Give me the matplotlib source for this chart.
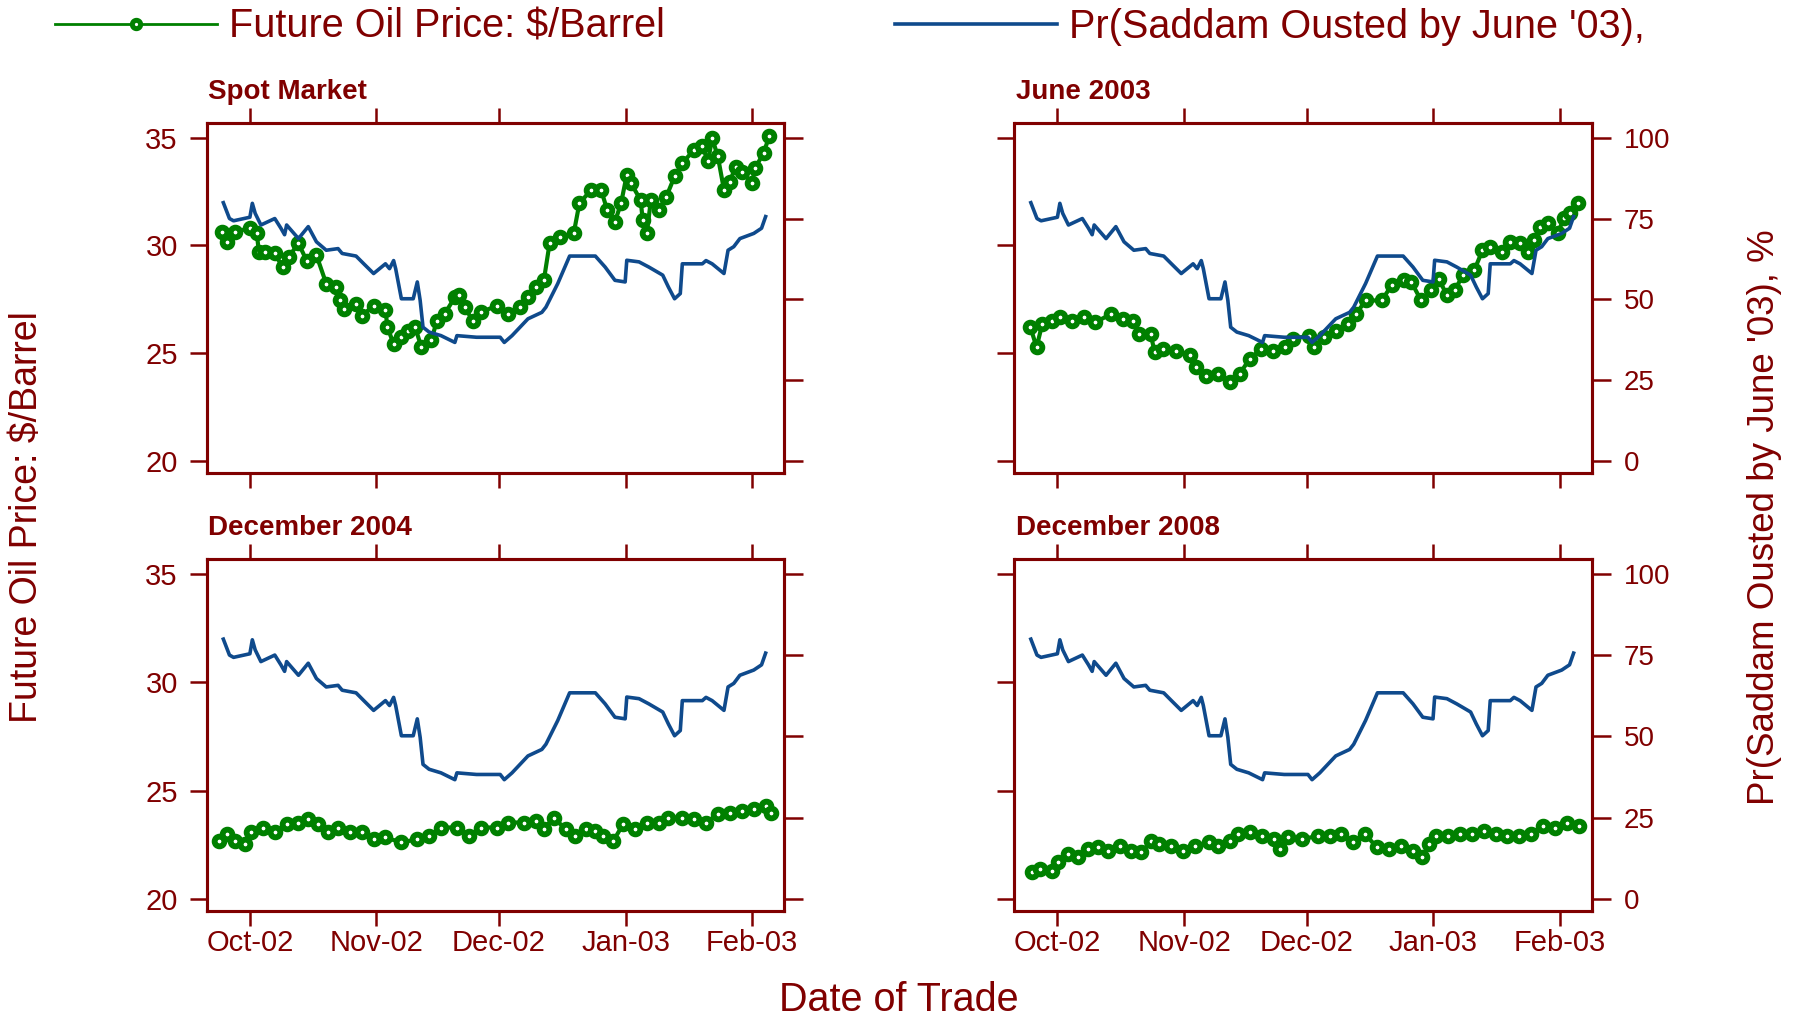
import matplotlib
matplotlib.use('Agg')
import matplotlib.pyplot as plt
import matplotlib.dates as mdates
import numpy as np
import datetime as dt

plt.rcParams['font.family'] = ['Liberation Sans', 'DejaVu Sans']

RED = '#800000'
GREEN = '#008000'
BLUE = '#0f4a8c'

# ---- data (x = days since 1 Oct 2002) ----
prob_days = [-6.5, -5.0, -4.0, 0.0, 0.6, 1.3, 2.7, 6.1, 7.6, 8.5,
             9.0, 11.9, 14.3, 16.3, 18.7, 21.6, 22.6, 26.0, 27.9, 30.3,
             33.2, 34.2, 35.2, 35.7, 37.1, 40.0, 41.0, 41.7, 42.4, 43.9,
             46.8, 50.2, 50.7, 55.5, 61.3, 62.3, 64.2, 68.1, 71.5, 72.5,
             75.4, 78.3, 84.6, 87.0, 89.4, 91.9, 92.3, 95.3, 97.7, 101.1,
             102.5, 104.0, 105.4, 105.9, 110.8, 111.7, 113.2, 116.1, 117.1, 118.5,
             120.0, 123.4, 125.3, 126.3]
prob_vals = [79.9, 75.0, 74.3, 75.4, 79.7, 76.6, 73.0, 75.0, 72.0, 70.0,
             73.0, 68.8, 72.5, 67.8, 65.2, 65.7, 64.2, 63.4, 61.0, 58.0,
             61.0, 59.5, 62.0, 59.5, 50.2, 50.2, 55.4, 49.7, 41.4, 39.9,
             38.8, 36.7, 38.8, 38.3, 38.3, 36.7, 38.8, 44.0, 46.0, 47.6,
             54.9, 63.4, 63.4, 60.0, 55.9, 55.4, 62.1, 61.6, 60.0, 57.5,
             53.8, 50.2, 51.8, 61.0, 61.0, 62.0, 61.0, 58.0, 65.2, 66.3,
             68.8, 70.4, 72.0, 75.6]

spot_days = [-6.9, -5.5, -3.6, 0.0, 1.7, 2.2, 3.7, 6.1, 8.0, 9.5,
             11.9, 13.9, 16.3, 18.7, 21.0, 22.1, 23.0, 26.0, 27.4, 30.3,
             33.2, 33.7, 35.2, 37.1, 38.6, 40.5, 42.0, 44.4, 45.8, 47.7,
             50.2, 51.2, 52.6, 54.6, 56.5, 60.4, 63.3, 66.2, 68.1, 70.1,
             72.0, 73.4, 75.9, 79.3, 80.7, 83.6, 86.0, 87.5, 89.4, 90.9,
             92.3, 93.3, 95.7, 96.2, 97.2, 98.2, 100.1, 102.0, 104.0, 105.9,
             108.8, 110.8, 112.2, 113.2, 114.6, 116.1, 117.5, 119.0, 120.4, 122.9,
             123.8, 125.8, 127.2]
spot_vals = [30.64, 30.17, 30.64, 30.8, 30.56, 29.7, 29.7, 29.63, 29.0, 29.47,
             30.1, 29.3, 29.55, 28.23, 28.07, 27.45, 27.07, 27.3, 26.75, 27.2,
             27.0, 26.2, 25.43, 25.75, 26.05, 26.2, 25.28, 25.6, 26.5, 26.83,
             27.6, 27.7, 27.15, 26.5, 26.9, 27.2, 26.83, 27.15, 27.6, 28.07,
             28.4, 30.1, 30.4, 30.56, 31.96, 32.58, 32.58, 31.65, 31.1, 31.96,
             33.28, 32.9, 32.1, 31.18, 30.56, 32.1, 31.65, 32.27, 33.2, 33.82,
             34.44, 34.6, 33.9, 34.98, 34.13, 32.58, 32.96, 33.66, 33.43, 32.9,
             33.6, 34.3, 35.06]

jun03_days = [-6.6, -5.1, -3.7, -1.3, 0.7, 3.6, 6.5, 9.3, 13.2, 16.1,
              18.5, 19.9, 22.8, 23.8, 25.8, 29.1, 32.5, 34.0, 36.4, 39.3,
              42.2, 44.6, 47.0, 49.9, 52.8, 55.7, 57.6, 61.5, 62.9, 65.3,
              68.2, 71.1, 73.0, 75.5, 79.3, 81.8, 84.7, 86.6, 89.0, 91.4,
              93.3, 95.3, 97.2, 99.2, 102.0, 104.0, 105.9, 108.8, 110.7, 113.2,
              115.1, 116.6, 118.0, 120.0, 122.4, 123.9, 125.4, 127.3]
jun03_vals = [26.21, 25.28, 26.37, 26.52, 26.68, 26.52, 26.68, 26.44, 26.83, 26.6,
              26.52, 25.9, 25.9, 25.05, 25.2, 25.12, 24.9, 24.35, 23.96, 24.04,
              23.65, 24.04, 24.74, 25.2, 25.12, 25.28, 25.67, 25.82, 25.28, 25.75,
              26.05, 26.37, 26.83, 27.45, 27.45, 28.15, 28.38, 28.3, 27.45, 27.92,
              28.46, 27.69, 27.92, 28.62, 28.85, 29.78, 29.94, 29.7, 30.17, 30.1,
              29.7, 30.25, 30.87, 31.02, 30.56, 31.26, 31.49, 31.96]

dec04_days = [-7.5, -5.5, -3.6, -1.2, 0.3, 3.2, 6.1, 9.0, 11.9, 14.3,
              16.8, 19.2, 21.6, 24.5, 27.4, 30.3, 33.2, 37.1, 41.0, 43.9,
              46.8, 50.7, 53.6, 56.5, 60.4, 63.3, 67.2, 70.1, 72.0, 74.4,
              77.3, 79.7, 82.2, 84.6, 86.5, 89.0, 91.4, 94.3, 97.2, 100.1,
              102.5, 105.9, 108.8, 111.7, 114.6, 117.5, 120.4, 123.4, 126.3, 127.7]
dec04_vals = [22.68, 22.99, 22.68, 22.53, 23.07, 23.3, 23.07, 23.45, 23.53, 23.68,
              23.45, 23.07, 23.3, 23.07, 23.07, 22.76, 22.84, 22.61, 22.76, 22.91,
              23.3, 23.3, 22.91, 23.3, 23.3, 23.53, 23.53, 23.6, 23.22, 23.76,
              23.22, 22.91, 23.22, 23.14, 22.91, 22.68, 23.45, 23.22, 23.53, 23.53,
              23.76, 23.76, 23.68, 23.53, 23.91, 23.99, 24.06, 24.14, 24.29, 23.99]

dec08_days = [-6.1, -4.2, -1.3, 0.2, 2.6, 5.0, 7.5, 9.9, 12.3, 15.2,
              18.1, 20.5, 23.0, 24.9, 27.8, 30.7, 33.6, 37.0, 39.4, 42.3,
              44.3, 47.2, 50.1, 53.0, 54.5, 56.4, 59.8, 63.7, 66.6, 69.5,
              72.4, 75.3, 78.2, 81.1, 84.0, 86.9, 89.3, 90.8, 92.7, 95.6,
              98.5, 101.4, 104.3, 107.2, 110.1, 113.0, 115.9, 118.8, 121.7, 124.6,
              127.5]
dec08_vals = [21.23, 21.38, 21.3, 21.69, 22.07, 21.92, 22.3, 22.38, 22.22, 22.45,
              22.22, 22.15, 22.68, 22.53, 22.45, 22.22, 22.45, 22.61, 22.45, 22.68,
              22.99, 23.07, 22.91, 22.76, 22.3, 22.84, 22.76, 22.91, 22.91, 22.99,
              22.61, 22.99, 22.38, 22.3, 22.45, 22.22, 21.92, 22.53, 22.91, 22.91,
              22.99, 22.99, 23.15, 22.99, 22.91, 22.91, 22.99, 23.38, 23.3, 23.53,
              23.38]

panel_titles = ['Spot Market', 'June 2003', 'December 2004', 'December 2008']
month_ticks = ['2002-10-01', '2002-11-01', '2002-12-01', '2003-01-01', '2003-02-01']
month_labels = ['Oct-02', 'Nov-02', 'Dec-02', 'Jan-03', 'Feb-03']
price_ticks = [20, 25, 30, 35]
prob_ticks = [0, 25, 50, 75, 100]

legend_labels = ['Future Oil Price: $/Barrel', "Pr(Saddam Ousted by June '03),"]
ylabel_left = 'Future Oil Price: $/Barrel'
ylabel_right = "Pr(Saddam Ousted by June '03), %"
xlabel = 'Date of Trade'

# ---- figure ----
W, H = 1802, 1016
fig = plt.figure(figsize=(W / 100, H / 100), dpi=100)

base = mdates.date2num(dt.datetime(2002, 10, 1))
xt = [mdates.date2num(dt.datetime.strptime(s, '%Y-%m-%d')) for s in month_ticks]
PMIN, PMAX = 19.45, 35.68

rects = [(207, 123, 784, 473), (1014.5, 123, 1592, 473),
         (207, 559, 784, 911), (1014.5, 559, 1592, 911)]
series = [(spot_days, spot_vals), (jun03_days, jun03_vals),
          (dec04_days, dec04_vals), (dec08_days, dec08_vals)]

handles = None
for i, (l, t, r, b) in enumerate(rects):
    row, col = divmod(i, 2)
    ax = fig.add_axes([l / W, 1 - b / H, (r - l) / W, (b - t) / H])
    ax2 = ax.twinx()
    d, v = series[i]
    g, = ax.plot(base + np.array(d), v, color=GREEN, lw=3.0, marker='o', ms=7,
                 mew=4.2, mfc='white', mec=GREEN)
    bl, = ax2.plot(base + np.array(prob_days), prob_vals, color=BLUE, lw=2.6)
    if handles is None:
        handles = [g, bl]
    ax.set_xlim(base - 10.5, base + 123 + 7.8)
    ax.set_ylim(PMIN, PMAX)
    ax2.set_ylim((PMIN - 20) / 15 * 100, (PMAX - 20) / 15 * 100)
    ax.set_xticks(xt)
    ax.set_xticklabels(month_labels)
    ax.set_yticks(price_ticks)
    ax2.set_yticks(prob_ticks)
    ax.tick_params(axis='x', direction='out', top=True, bottom=True,
                   labeltop=False, labelbottom=(row == 1), length=11, width=1.8,
                   color=RED, labelcolor=RED, labelsize=21, pad=2)
    ax.tick_params(axis='y', direction='out', left=True, right=False,
                   labelleft=(col == 0), labelright=False, length=12, width=1.8,
                   color=RED, labelcolor=RED, labelsize=21, pad=9)
    ax2.tick_params(axis='y', direction='out', right=True, left=False,
                    labelright=(col == 1), labelleft=False, length=14, width=1.8,
                    color=RED, labelcolor=RED, labelsize=20, pad=9)
    for a in (ax, ax2):
        for s in a.spines.values():
            s.set_color(RED)
            s.set_linewidth(2.2)
    ax.text(0.002, 1.069, panel_titles[i], transform=ax.transAxes,
            fontsize=20, fontweight='bold', color=RED, ha='left', va='baseline')

leg = fig.legend(handles, legend_labels, loc='center left',
                 bbox_to_anchor=(55 / W, 1 - 27 / H), ncol=2, frameon=False,
                 fontsize=28.5, handlelength=4.1, handletextpad=0.3, columnspacing=5.8,
                 borderpad=0, borderaxespad=0, numpoints=1, labelcolor=RED)
leg.legend_handles[0].set_linewidth(2.0)
leg.legend_handles[0].set_markersize(6)
leg.legend_handles[0].set_markeredgewidth(3.6)

fig.text(27 / W, 1 - 517 / H, ylabel_left, rotation=90, ha='center', va='center',
         fontsize=27, color=RED)
fig.text(1764 / W, 1 - 517 / H, ylabel_right, rotation=90, ha='center', va='center',
         fontsize=26.5, color=RED)
fig.text(899 / W, 1 - 1000 / H, xlabel, ha='center', va='center',
         fontsize=28.5, color=RED)

fig.savefig('out.png', dpi=100, facecolor='white')
